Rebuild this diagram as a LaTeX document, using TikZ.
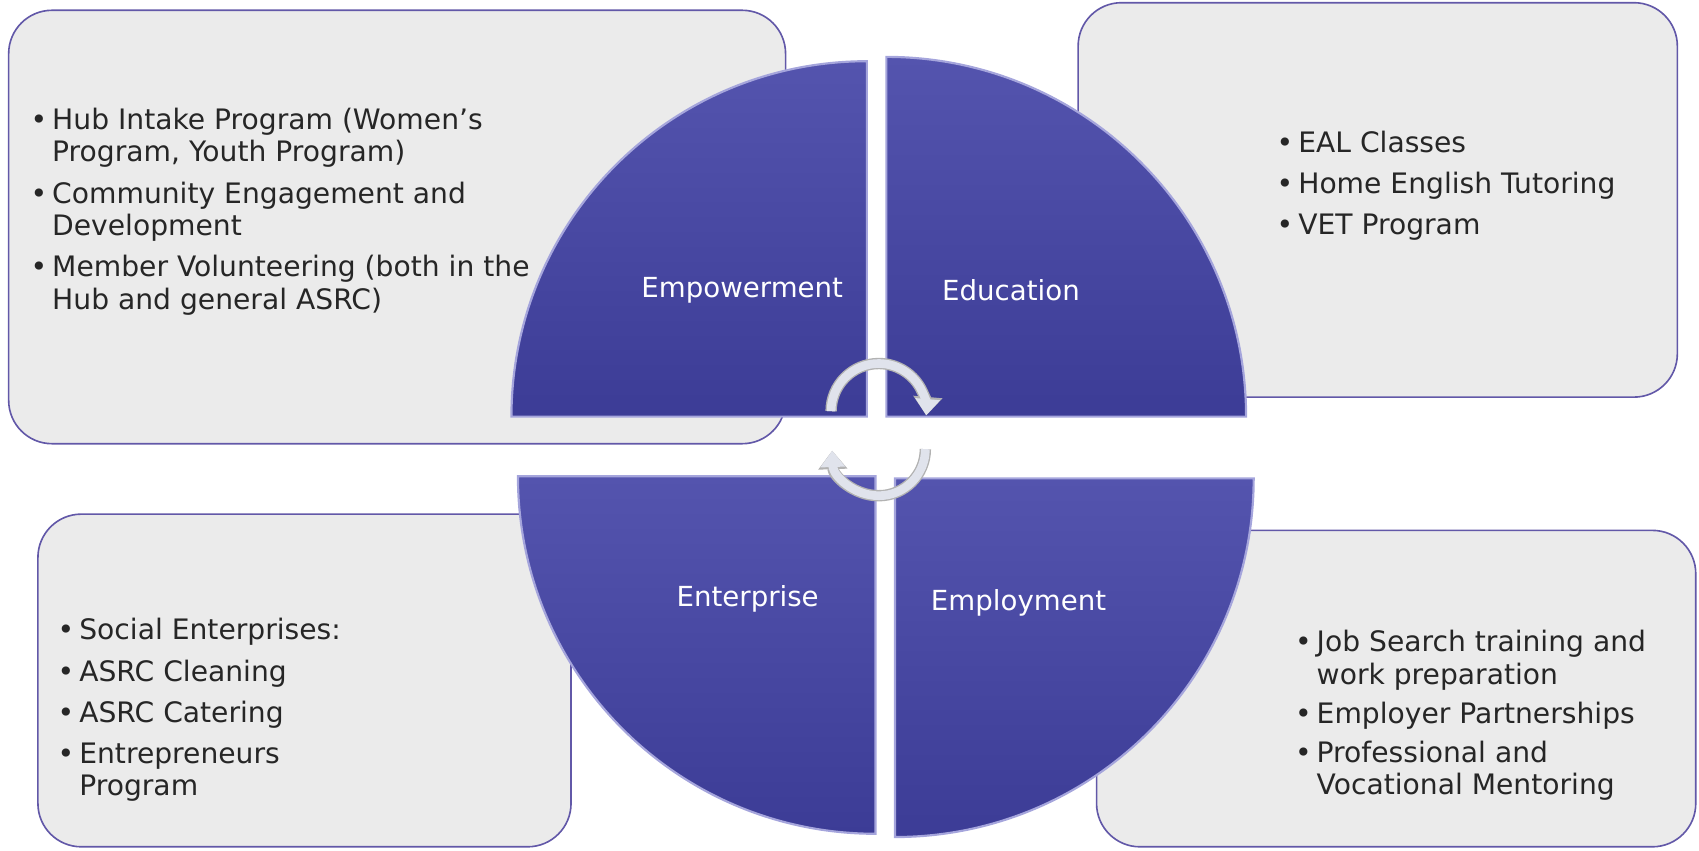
\documentclass[tikz,border=0pt]{standalone}
\usepackage{fontspec}
\setmainfont{DejaVu Sans}
\usetikzlibrary{arrows.meta}
\definecolor{quadblue}{RGB}{60,60,150}
\definecolor{quadlight}{RGB}{84,84,174}
\definecolor{quadedge}{RGB}{165,165,220}
\definecolor{boxfill}{RGB}{235,235,235}
\definecolor{boxedge}{RGB}{98,88,168}
\definecolor{cyclegrey}{RGB}{224,227,236}
\newcommand{\itemfont}{\fontsize{26}{30}\selectfont}
\newcommand{\bul}{\makebox[20pt][l]{\textbullet}}
\begin{document}
\begin{tikzpicture}[x=1pt,y=1pt,
  infobox/.style={draw=boxedge, line width=1.5pt, fill=boxfill, rounded corners=40pt},
  quad/.style={top color=quadlight, bottom color=quadblue, draw=quadedge, line width=2pt},
  quadlabel/.style={text=white, font=\fontsize{25.5}{30}\selectfont},
  itemlist/.style={anchor=base west, inner sep=0pt, text=black!85, font=\itemfont},
  cyclearrow/.style={draw=cyclegrey, line width=8pt, -{Triangle[length=15pt,width=22pt]},
    preaction={draw=black!30, line width=10.5pt, -{Triangle[length=17pt,width=26pt]}}}]
\useasboundingbox (0,0) rectangle (1568,784.5);
% the four text panels
\draw[infobox] (8,375) rectangle (725,775);
\draw[infobox] (995,418) rectangle (1548,782);
\draw[infobox] (35,3) rectangle (527,310);
\draw[infobox] (1012,3) rectangle (1565,295);
% the four quarters
\foreach \cx/\cy/\r/\a in {800/400/328/90, 818/400/332/0, 808/345/330/180, 826/343/331/270}
  \shadedraw[quad] (\cx,\cy) -- ++(\a:\r) arc[start angle=\a, delta angle=90, radius=\r] -- cycle;
\node[quadlabel] (empower) at (685,517) {Empowerment};
\node[quadlabel] (educ) at (933,517) {Education};
\node[quadlabel] (enterp) at (690,232) {Enterprise};
\node[quadlabel] (employ) at (940,228) {Employment};
% lists
\node[itemlist] (empowerlist) at (28,665) {\begin{tabular}[t]{@{}l@{}l@{}}
  \bul & Hub Intake Program (Women’s\\
       & Program, Youth Program)\\[8pt]
  \bul & Community Engagement and\\
       & Development\\[8pt]
  \bul & Member Volunteering (both in the\\
       & Hub and general ASRC)
  \end{tabular}};
\node[itemlist] (educlist) at (1178,644) {\begin{tabular}[t]{@{}l@{}l@{}}
  \bul & EAL Classes\\[8pt]
  \bul & Home English Tutoring\\[8pt]
  \bul & VET Program
  \end{tabular}};
\node[itemlist] (enterplist) at (53,194) {\begin{tabular}[t]{@{}l@{}l@{}}
  \bul & Social Enterprises:\\[8pt]
  \bul & ASRC Cleaning\\[8pt]
  \bul & ASRC Catering\\[8pt]
  \bul & Entrepreneurs\\
       & Program
  \end{tabular}};
\node[itemlist] (employlist) at (1195,183) {\begin{tabular}[t]{@{}l@{}l@{}}
  \bul & Job Search training and\\
       & work preparation\\[6pt]
  \bul & Employer Partnerships\\[6pt]
  \bul & Professional and\\
       & Vocational Mentoring
  \end{tabular}};
% cycle arrows
\coordinate (topstart) at (767,405);
\coordinate (botstart) at (854,370);
\draw[cyclearrow] (topstart) arc[start angle=180, end angle=-5, radius=44];
\draw[cyclearrow] (botstart) arc[start angle=0, end angle=-178, radius=43];
\end{tikzpicture}
\end{document}
